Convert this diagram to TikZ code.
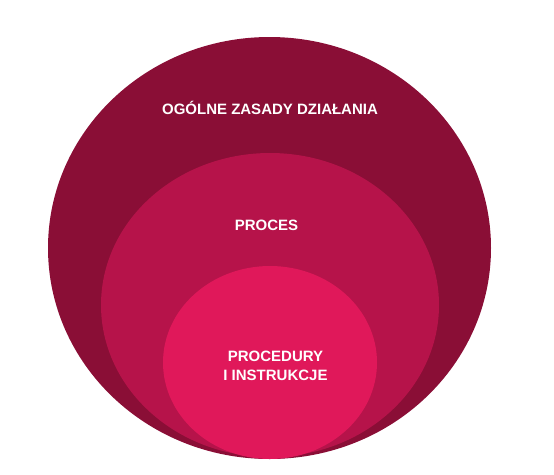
\documentclass[tikz,border=0pt]{standalone}
\usepackage{fontspec}
\setmainfont{Liberation Sans}
\definecolor{outerc}{RGB}{138,14,54}
\definecolor{midc}{RGB}{182,19,74}
\definecolor{innerc}{RGB}{224,24,90}
\begin{document}
\begin{tikzpicture}[x=1pt,y=-1pt,
  lbl/.style={text=white,font=\bfseries\fontsize{15}{19}\selectfont,align=center,inner sep=0pt}]
\useasboundingbox (0,0) rectangle (554,474);
\fill[outerc] (269.5,248) ellipse [x radius=221.5, y radius=211];
\fill[midc] (270,305) ellipse [x radius=169, y radius=152];
\fill[innerc] (270,362.5) ellipse [x radius=107, y radius=96.5];
\node[lbl] (t1) at (270,108) {OGÓLNE ZASADY DZIAŁANIA};
\node[lbl] (t2) at (266.5,225) {PROCES};
\node[lbl] (t3) at (275.5,365.5) {PROCEDURY\\I INSTRUKCJE};
\end{tikzpicture}
\end{document}
